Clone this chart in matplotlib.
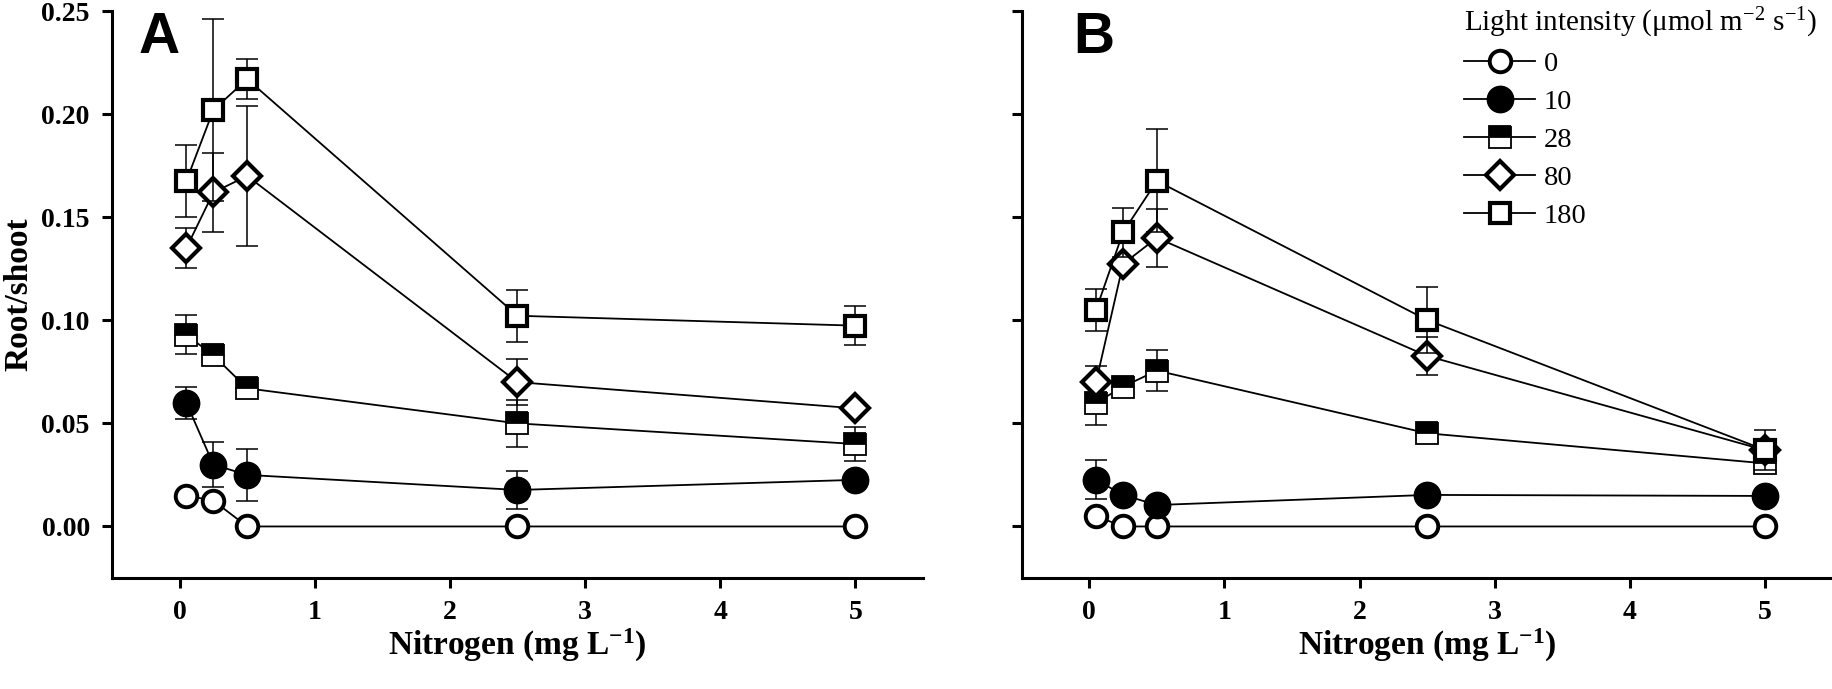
import matplotlib
matplotlib.use("Agg")
import matplotlib.pyplot as plt

plt.rcParams["font.family"] = ["Liberation Serif", "DejaVu Serif"]
plt.rcParams["mathtext.fontset"] = "custom"
plt.rcParams["mathtext.rm"] = "Liberation Serif"
plt.rcParams["mathtext.bf"] = "Liberation Serif:bold"
plt.rcParams["mathtext.it"] = "Liberation Serif:italic"

# nitrogen levels (mg L-1)
nitrogen = [0.05, 0.25, 0.5, 2.5, 5.0]
light_levels = ["0", "10", "28", "80", "180"]

# panel A root/shoot means and error bars, one list per light level
a_mean = {
    "0":   [0.015, 0.0125, 0.0, 0.0, 0.0],
    "10":  [0.060, 0.030, 0.025, 0.0177, 0.0226],
    "28":  [0.093, 0.083, 0.067, 0.050, 0.040],
    "80":  [0.135, 0.162, 0.170, 0.070, 0.0573],
    "180": [0.1675, 0.202, 0.217, 0.1022, 0.0974],
}
a_err = {
    "0":   [0.0, 0.0, 0.0, 0.0, 0.0],
    "10":  [0.0078, 0.011, 0.0125, 0.009, 0.0],
    "28":  [0.0095, 0.0, 0.0, 0.0114, 0.0083],
    "80":  [0.0097, 0.019, 0.034, 0.011, 0.0],
    "180": [0.0175, 0.044, 0.0095, 0.0126, 0.0095],
}

# panel B
b_mean = {
    "0":   [0.005, 0.0, 0.0, 0.0, 0.0],
    "10":  [0.0226, 0.0153, 0.0104, 0.0153, 0.0148],
    "28":  [0.060, 0.0678, 0.0756, 0.0452, 0.0306],
    "80":  [0.070, 0.1273, 0.140, 0.0827, 0.037],
    "180": [0.105, 0.1427, 0.1676, 0.1001, 0.0371],
}
b_err = {
    "0":   [0.0, 0.0, 0.0, 0.0, 0.0],
    "10":  [0.0095, 0.0, 0.0, 0.0, 0.0],
    "28":  [0.011, 0.0, 0.010, 0.0, 0.0],
    "80":  [0.008, 0.0, 0.014, 0.0093, 0.0],
    "180": [0.010, 0.012, 0.025, 0.016, 0.0097],
}

# marker look per light level
styles = {
    "0":   dict(marker="o", ms=15.5, mfc="white", mec="black", mew=2.8),
    "10":  dict(marker="o", ms=19, mfc="black", mec="black", mew=1.0),
    "28":  dict(marker="s", ms=16, mfc="black", mec="black", mew=1.3,
                fillstyle="top", markerfacecoloralt="white"),
    "80":  dict(marker="D", ms=14.5, mfc="white", mec="black", mew=3.0),
    "180": dict(marker="s", ms=14.5, mfc="white", mec="black", mew=3.0),
}

fig = plt.figure(figsize=(18.33, 6.89), dpi=100)
ax_a = fig.add_axes([0.0611, 0.1611, 0.4424, 0.8229])
ax_b = fig.add_axes([0.5574, 0.1611, 0.4424, 0.8229])


def draw_panel(ax, means, errs):
    for i, lvl in enumerate(light_levels):
        ax.errorbar(nitrogen, means[lvl], yerr=errs[lvl], fmt="none",
                    ecolor="black", elinewidth=1.1, capsize=8, capthick=1.1,
                    zorder=2 + i)
        ax.plot(nitrogen, means[lvl], color="black", lw=1.3, label=lvl,
                zorder=3 + i, **styles[lvl])
    ax.set_xlim(-0.5, 5.5)
    ax.set_ylim(-0.025, 0.25)
    ax.set_xticks([0, 1, 2, 3, 4, 5])
    ax.set_yticks([0.0, 0.05, 0.10, 0.15, 0.20, 0.25])
    for side in ("top", "right"):
        ax.spines[side].set_visible(False)
    for side in ("left", "bottom"):
        ax.spines[side].set_linewidth(2.2)
    ax.tick_params(direction="out", length=7, width=2.2, labelsize=20, pad=9)
    for lab in ax.get_xticklabels() + ax.get_yticklabels():
        lab.set_fontweight("bold")
    ax.set_xlabel(r"Nitrogen (mg L$^{\mathbf{-1}}$)", fontsize=24,
                  fontweight="bold", labelpad=1)


draw_panel(ax_a, a_mean, a_err)
draw_panel(ax_b, b_mean, b_err)

ax_a.yaxis.set_major_formatter(matplotlib.ticker.FormatStrFormatter("%.2f"))
ax_a.set_ylabel("Root/shoot", fontsize=24, fontweight="bold", labelpad=5)
ax_b.tick_params(labelleft=False)

ax_a.text(0.033, 1.0, "A", transform=ax_a.transAxes, fontsize=41,
          fontweight="bold", family="Liberation Sans", va="top", ha="left")
ax_b.text(0.064, 1.0, "B", transform=ax_b.transAxes, fontsize=41,
          fontweight="bold", family="Liberation Sans", va="top", ha="left")

leg = ax_b.legend(loc="upper left", bbox_to_anchor=(0.528, 1.035),
                  frameon=False, fontsize=20.5, numpoints=1,
                  title=r"Light intensity (μmol m$^{-2}$ s$^{-1}$)",
                  title_fontsize=21, alignment="left",
                  handlelength=2.5, handletextpad=0.3, labelspacing=0.42,
                  borderpad=0.0)

fig.savefig("out.png", dpi=100)
